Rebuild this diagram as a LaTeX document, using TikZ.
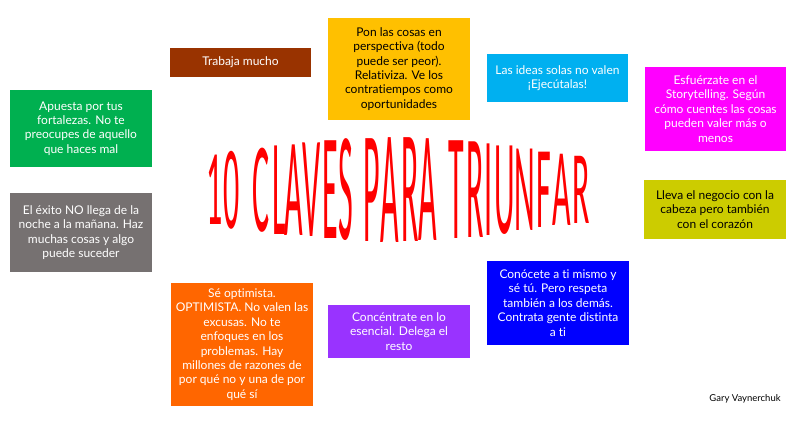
\documentclass[tikz,border=0pt]{standalone}
\usepackage{fontspec}
\usepackage{graphicx}
\setmainfont{Lato}[Ligatures=NoCommon]
\newfontfamily\titlefont{Carlito}[BoldFont=*]
\definecolor{cbrown}{HTML}{993300}
\definecolor{cgold}{HTML}{FFC000}
\definecolor{ccyan}{HTML}{00B0F0}
\definecolor{cmagenta}{HTML}{FF00FF}
\definecolor{cgreen}{HTML}{00B050}
\definecolor{cgray}{HTML}{767171}
\definecolor{colive}{HTML}{CCCC00}
\definecolor{cblue}{HTML}{0000FF}
\definecolor{corange}{HTML}{FF6600}
\definecolor{cpurple}{HTML}{9933FF}
\definecolor{cred}{HTML}{FF0000}
\tikzset{
  card/.style={inner sep=0pt, align=center, text=white, minimum width=142pt,
    font=\fontsize{12}{14.4}\selectfont},
  darktext/.style={text=black},
  titleletter/.style={inner sep=0pt, anchor=center, text=cred,
    font=\titlefont\bfseries\fontsize{100}{100}\selectfont},
  credit/.style={inner sep=0pt, text=black, font=\fontsize{9.5}{11}\selectfont}
}
\begin{document}
\begin{tikzpicture}[x=1pt,y=-1pt]
\useasboundingbox[fill=white] (0,0) rectangle (800,437);

\node[card, fill=cbrown, minimum height=29pt, minimum width=141pt] (trabaja) at (240.5,62.5) {Trabaja mucho};
\node[card, darktext, fill=cgold, minimum height=102pt] (pon) at (399,69)
  {Pon las cosas en\\perspectiva (todo\\puede ser peor).\\Relativiza. Ve los\\contratiempos como\\oportunidades};
\node[card, fill=ccyan, minimum height=48pt, minimum width=141pt] (ideas) at (557.5,78)
  {Las ideas solas no valen\\¡Ejecútalas!};
\node[card, fill=cmagenta, minimum height=84pt, minimum width=141pt] (esfuerzate) at (715.5,109)
  {Esfuérzate en el\\Storytelling. Según\\cómo cuentes las cosas\\pueden valer más o\\menos};
\node[card, fill=cgreen, minimum height=77pt] (apuesta) at (81,128.5)
  {Apuesta por tus\\fortalezas. No te\\preocupes de aquello\\que haces mal};
\node[card, fill=cgray, minimum height=79pt] (exito) at (81,232.5)
  {El éxito NO llega de la\\noche a la mañana. Haz\\muchas cosas y algo\\puede suceder};
\node[card, darktext, fill=colive, minimum height=59pt] (lleva) at (715,209.5)
  {Lleva el negocio con la\\cabeza pero también\\con el corazón};
\node[card, fill=cblue, minimum height=84pt] (conocete) at (558,303)
  {Conócete a ti mismo y\\sé tú. Pero respeta\\también a los demás.\\Contrata gente distinta\\a ti};
\node[card, fill=corange, minimum height=123pt] (optimista) at (242,344.5)
  {Sé optimista.\\OPTIMISTA. No valen las\\excusas. No te\\enfoques en los\\problemas. Hay\\millones de razones de\\por qué no y una de por\\qué sí};
\node[card, fill=cpurple, minimum height=53pt] (concentrate) at (399,331.5)
  {Concéntrate en lo\\esencial. Delega el\\resto};

\node[credit] (gary) at (745,399) {Gary Vaynerchuk};

\foreach \c/\x/\h [count=\i] in {1/215/68, 0/232/75, C/261/81, L/279/87, A/294/89,
  V/312/92, E/330/96, S/346/98, P/372/101, A/390/103, R/410/102, A/428/100,
  T/456/96, R/475/94, I/489/90, U/505/86, N/525/80, F/544/74, A/562/70, R/581/66}
{
  \pgfmathsetmacro\ys{\h/63}
  \node[titleletter] (letter\i) at (\x,190) {\scalebox{0.32}[\ys]{\c}};
}
\end{tikzpicture}
\end{document}
